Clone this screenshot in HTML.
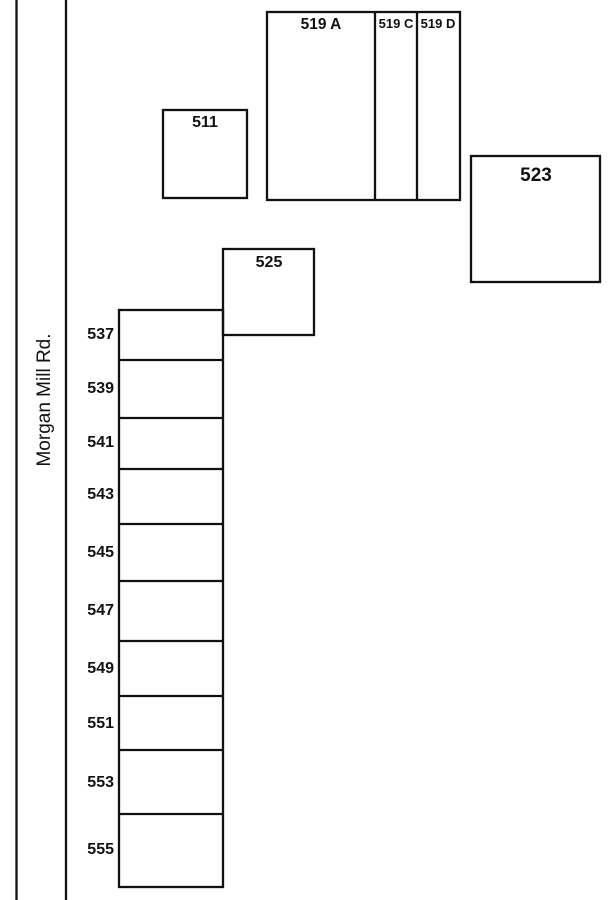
<!DOCTYPE html>
<html><head><meta charset="utf-8"><style>
html,body{margin:0;padding:0;background:#fff;}
svg{display:block;}
text{font-family:"Liberation Sans",sans-serif;fill:#111;}
</style></head><body>
<svg width="613" height="900" viewBox="0 0 613 900" xmlns="http://www.w3.org/2000/svg">
<g stroke="#111" stroke-width="2.3" fill="none">
<line x1="16.5" y1="0" x2="16.5" y2="900"/>
<line x1="66" y1="0" x2="66" y2="900"/>
<rect x="163" y="110" width="84" height="88"/>
<rect x="267" y="12" width="193" height="188"/>
<line x1="375" y1="12" x2="375" y2="200"/>
<line x1="417" y1="12" x2="417" y2="200"/>
<rect x="471" y="156" width="129" height="126"/>
<rect x="223" y="249" width="91" height="86"/>
<rect x="119" y="310" width="104" height="577"/>
<line x1="119" y1="360" x2="223" y2="360"/>
<line x1="119" y1="418" x2="223" y2="418"/>
<line x1="119" y1="469" x2="223" y2="469"/>
<line x1="119" y1="524" x2="223" y2="524"/>
<line x1="119" y1="581" x2="223" y2="581"/>
<line x1="119" y1="641" x2="223" y2="641"/>
<line x1="119" y1="696" x2="223" y2="696"/>
<line x1="119" y1="750" x2="223" y2="750"/>
<line x1="119" y1="814" x2="223" y2="814"/>
</g>
<g font-weight="bold" font-size="16" text-anchor="middle">
<text x="205" y="127">511</text>
<text x="321" y="29" font-size="15.5">519 A</text>
<text x="396" y="28" font-size="13">519 C</text>
<text x="438" y="28" font-size="13">519 D</text>
<text x="536" y="181" font-size="19">523</text>
<text x="269" y="267">525</text>
</g>
<g font-weight="bold" font-size="16" text-anchor="end">
<text x="114" y="339">537</text>
<text x="114" y="393">539</text>
<text x="114" y="447">541</text>
<text x="114" y="499">543</text>
<text x="114" y="557">545</text>
<text x="114" y="615">547</text>
<text x="114" y="673">549</text>
<text x="114" y="728">551</text>
<text x="114" y="787">553</text>
<text x="114" y="854">555</text>
</g>
<text x="0" y="0" font-size="19" text-anchor="middle" transform="translate(50,400) rotate(-90)">Morgan Mill Rd.</text>
</svg>
</body></html>
